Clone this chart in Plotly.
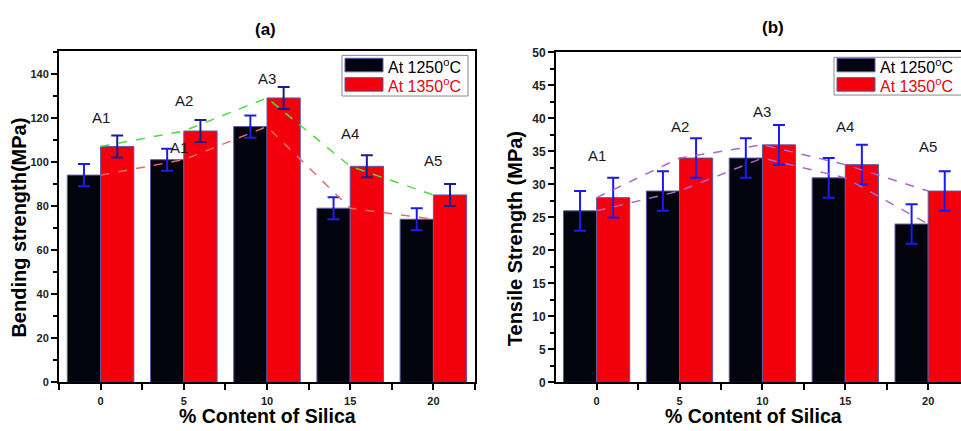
import plotly.graph_objects as go
from plotly.subplots import make_subplots

# ---------------- data ----------------
silica = [0, 5, 10, 15, 20]
bend_1250 = [94, 101, 116, 79, 74]
bend_1350 = [107, 114, 129, 98, 85]
bend_err = [5, 5, 5, 5, 5]
tens_1250 = [26, 29, 34, 31, 24]
tens_1350 = [28, 34, 36, 33, 29]
tens_err = [3, 3, 3, 3, 3]
sample_labels = ["A1", "A2", "A3", "A4", "A5"]
bend_label_y = [120, 128, 138, 113, 100.5]
tens_label_y = [34.4, 38.8, 41, 38.8, 35.8]
legend_names = ["At 1250<sup>o</sup>C", "At 1350<sup>o</sup>C"]

W, H = 961, 431
FONT = "Liberation Sans, Arial, sans-serif"
BLACK = "#04040e"
RED = "#f4000c"
EDGE = "#5a5aa8"

def px(x):
    return x / W

def py(y):
    return 1 - y / H

fig = make_subplots(rows=1, cols=2)

bar_w = 2
left_pos = [c - bar_w / 2 for c in silica]
right_pos = [c + bar_w / 2 for c in silica]

panels = [
    (1, bend_1250, bend_1350, bend_err, "#1e1ee0", "#1c1c90", "#4ade3e", "#e86a6a"),
    (2, tens_1250, tens_1350, tens_err, "#1a1af0", "#1a1af0", "#a868c8", "#a868c8"),
]
for col, lo, hi, err, ecol_lo, ecol_hi, line_hi, line_lo in panels:
    fig.add_trace(go.Bar(x=left_pos, y=lo, width=bar_w, marker_color=BLACK,
                         marker_line=dict(color=EDGE, width=1),
                         error_y=dict(type="data", array=err, color=ecol_lo,
                                      thickness=2, width=6),
                         showlegend=False), row=1, col=col)
    fig.add_trace(go.Bar(x=right_pos, y=hi, width=bar_w, marker_color=RED,
                         marker_line=dict(color=EDGE, width=1),
                         error_y=dict(type="data", array=err, color=ecol_hi,
                                      thickness=2, width=6),
                         showlegend=False), row=1, col=col)
    fig.add_trace(go.Scatter(x=silica, y=hi, mode="lines",
                             line=dict(color=line_hi, width=1.5, dash="dash"),
                             showlegend=False, hoverinfo="skip"), row=1, col=col)
    fig.add_trace(go.Scatter(x=silica, y=lo, mode="lines",
                             line=dict(color=line_lo, width=1.5, dash="dash"),
                             showlegend=False, hoverinfo="skip"), row=1, col=col)

fig.update_layout(barmode="overlay")

# sample labels
for col, ys in [(1, bend_label_y), (2, tens_label_y)]:
    xr = "x" if col == 1 else "x2"
    yr = "y" if col == 1 else "y2"
    for c, lab, yv in zip(silica, sample_labels, ys):
        fig.add_annotation(x=c, y=yv, xref=xr, yref=yr, text=lab, showarrow=False,
                           xanchor="center", yanchor="middle",
                           font=dict(family=FONT, size=15, color="#1a1a1a"))
# stray duplicate label in panel (a)
fig.add_annotation(x=4.7, y=106.6, xref="x", yref="y", text="A1", showarrow=False,
                   xanchor="center", yanchor="middle",
                   font=dict(family=FONT, size=15, color="#1a1a1a"))

axis_common = dict(showline=True, linecolor="black", linewidth=2, ticks="outside",
                   tickcolor="black", tickwidth=1.5, showgrid=False, zeroline=False)

fig.update_xaxes(**axis_common, mirror=True, tickvals=silica,
                 ticktext=["<b>%d</b>" % v for v in silica],
                 ticklen=6, ticklabelstandoff=1,
                 minor=dict(dtick=2.5, tick0=0, ticks="outside", ticklen=6,
                            tickcolor="black", tickwidth=1.5),
                 tickfont=dict(family=FONT, size=11, color="#222"))
fig.update_xaxes(range=[-2.5, 22.5], domain=[px(59), px(475)], row=1, col=1)
fig.update_xaxes(range=[-2.45, 21.98], domain=[px(556), 1.0], row=1, col=2)

fig.update_yaxes(**axis_common, ticklen=6)
fig.update_yaxes(range=[0, 150.5], mirror=True,
                 tickvals=[0, 20, 40, 60, 80, 100, 120, 140],
                 ticktext=["<b>%d</b>" % v for v in [0, 20, 40, 60, 80, 100, 120, 140]],
                 minor=dict(dtick=10, tick0=0, ticks="outside", ticklen=4, tickcolor="black"),
                 tickfont=dict(family=FONT, size=11, color="#222"),
                 domain=[py(388), py(45)], row=1, col=1)
fig.update_yaxes(range=[0, 50], mirror=False,
                 tickvals=list(range(0, 51, 5)),
                 ticktext=["<b>%d</b>" % v for v in range(0, 51, 5)],
                 minor=dict(dtick=2.5, tick0=0, ticks="outside", ticklen=4, tickcolor="black"),
                 tickfont=dict(family=FONT, size=12, color="#222"),
                 domain=[py(388), py(47)], row=1, col=2)

# panel titles
for txt, x, y in [("<b>(a)</b>", 265, 23), ("<b>(b)</b>", 773, 21)]:
    fig.add_annotation(x=px(x), y=py(y), xref="paper", yref="paper", text=txt,
                       xanchor="center", yanchor="middle",
                       showarrow=False, font=dict(family=FONT, size=17, color="black"))
# axis titles
for txt, x, y, ang, sz in [("<b>Bending strength(MPa)</b>", 19, 228, -90, 20),
                           ("<b>Tensile Strength (MPa)</b>", 515, 240, -90, 20),
                           ("<b>% Content of Silica</b>", 267, 423, 0, 19.5),
                           ("<b>% Content of Silica</b>", 753, 423, 0, 19.5)]:
    fig.add_annotation(x=px(x), y=py(y), xref="paper", yref="paper", text=txt,
                       textangle=ang, showarrow=False, xanchor="center", yanchor="middle",
                       font=dict(family=FONT, size=sz, color="black"))

# manual legends
shapes = []
for (bx0, bx1, by0, by1, sx0, sx1) in [(342, 468, 50, 92, 345, 383),
                                       (834, 965, 52, 91, 837, 875)]:
    shapes.append(dict(type="rect", xref="paper", yref="paper",
                       x0=px(bx0), x1=px(bx1), y0=py(by1), y1=py(by0),
                       line=dict(color="#888", width=1), fillcolor="white"))
    for (y0, y1, colr, name, tcol) in [(53, 67, BLACK, legend_names[0], "black"),
                                       (73, 87, RED, legend_names[1], "#f00010")]:
        shapes.append(dict(type="rect", xref="paper", yref="paper",
                           x0=px(sx0), x1=px(sx1), y0=py(y1), y1=py(y0),
                           line=dict(color=EDGE, width=1), fillcolor=colr))
        fig.add_annotation(x=px(sx1 + 3), y=py((y0 + y1) / 2 + 1), xref="paper", yref="paper",
                           text=name, showarrow=False, xanchor="left", yanchor="middle",
                           font=dict(family=FONT, size=16, color=tcol))
fig.update_layout(shapes=shapes)

fig.update_layout(width=W, height=H, margin=dict(l=0, r=0, t=0, b=0),
                  plot_bgcolor="white", paper_bgcolor="white", showlegend=False)

fig.write_html("out.html")
